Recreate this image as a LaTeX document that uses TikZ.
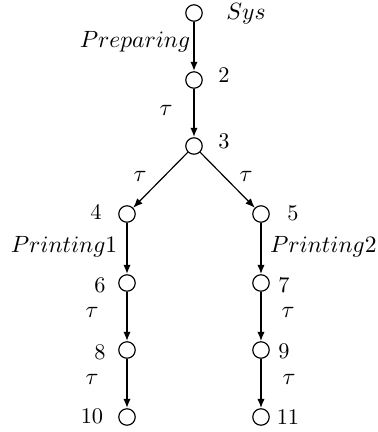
\documentclass[tikz,border=0pt]{standalone}
\usetikzlibrary{arrows.meta}
\begin{document}
\begin{tikzpicture}[x=0.425pt,y=-0.425pt,
  state/.style={circle,draw,line width=0.5pt,minimum size=7pt,inner sep=0pt},
  num/.style={font=\fontsize{9.5}{11}\selectfont,inner sep=0pt},
  lab/.style={inner sep=0pt},
  heavy/.style={line width=1.05pt,-{Latex[length=4pt,width=3.2pt]}},
  medium/.style={line width=0.7pt,-{Latex[length=4pt,width=3.2pt]}},
  light/.style={line width=0.5pt,-{Latex[length=4pt,width=3.2pt]}}]
\useasboundingbox (0,0) rectangle (378,432);
% states
\node[state] (s1) at (194,13) {};
\node[state] (s2) at (194,80) {};
\node[state] (s3) at (194,146) {};
\node[state] (s4) at (127,214) {};
\node[state] (s5) at (261,214) {};
\node[state] (s6) at (127,283) {};
\node[state] (s7) at (261,283) {};
\node[state] (s8) at (127,350) {};
\node[state] (s9) at (261,350) {};
\node[state] (s10) at (127,417) {};
\node[state] (s11) at (261,417) {};
% state labels
\node[lab] (l1) at (246,14) {$Sys$};
\node[num] (l2) at (224,75) {2};
\node[num] (l3) at (224,141) {3};
\node[num] (l4) at (96,212) {4};
\node[num] (l5) at (293,213) {5};
\node[num] (l6) at (100,285) {6};
\node[num] (l7) at (284,285) {7};
\node[num] (l8) at (100,352) {8};
\node[num] (l9) at (284,351) {9};
\node[num] (l10) at (92,416) {10};
\node[num] (l11) at (288,417) {11};
% transitions
\draw[heavy] (s1) -- (s2);
\draw[heavy] (s2) -- (s3);
\draw[light] (s3) -- (s4);
\draw[light] (s3) -- (s5);
\draw[heavy] (s4) -- (s6);
\draw[medium] (s5) -- (s7);
\draw[heavy] (s6) -- (s8);
\draw[medium] (s7) -- (s9);
\draw[heavy] (s8) -- (s10);
\draw[medium] (s9) -- (s11);
% transition labels
\node[lab] (t1) at (135,42) {$Preparing$};
\node[lab] (t2) at (166,110) {$\tau$};
\node[lab] (t3) at (140,176) {$\tau$};
\node[lab] (t4) at (246,176) {$\tau$};
\node[lab] (t5) at (64,247) {$Printing1$};
\node[lab,anchor=east] (t6) at (377,247) {$Printing2$};
\node[lab] (t7) at (92,312) {$\tau$};
\node[lab] (t8) at (288,312) {$\tau$};
\node[lab] (t9) at (92,379) {$\tau$};
\node[lab] (t10) at (289,379) {$\tau$};
\end{tikzpicture}
\end{document}
